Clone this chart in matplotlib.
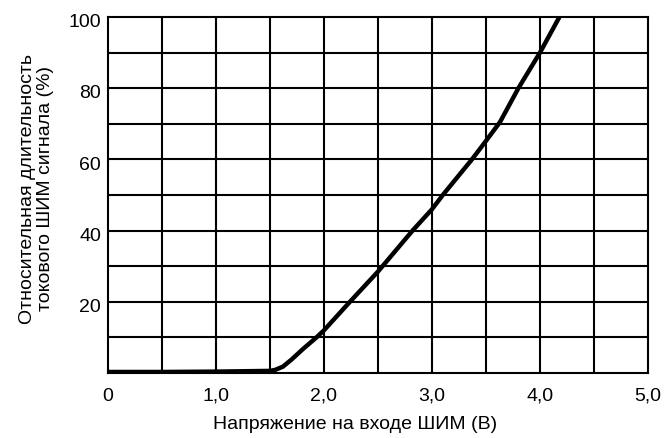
import matplotlib
matplotlib.use('Agg')
import matplotlib.pyplot as plt
import matplotlib.transforms as mtransforms
import numpy as np

plt.rcParams['font.family'] = ['Liberation Sans Narrow', 'Liberation Sans', 'DejaVu Sans']

# кривая: напряжение (В) -> относительная длительность (%)
volt = [0, 0.5, 1.0, 1.5, 1.55, 1.62, 1.7, 1.8, 1.93, 2.0, 2.24, 2.5, 2.82,
        3.0, 3.1, 3.37, 3.5, 3.63, 3.8, 4.0, 4.18]
duty = [0.3, 0.3, 0.4, 0.6, 0.9, 1.8, 3.8, 6.6, 10, 12, 20, 28.5, 40,
        46, 50, 60, 65.2, 70.5, 80, 90, 100]

xticks = [0, 1, 2, 3, 4, 5]
xlabels = ['0', '1,0', '2,0', '3,0', '4,0', '5,0']
yticks = [20, 40, 60, 80, 100]
ylabels = ['20', '40', '60', '80', '100']

fig = plt.figure(figsize=(6.65, 4.39), dpi=100)
ax = fig.add_axes([0.1624, 0.148, 0.812, 0.811])

for xv in np.arange(0.5, 5.0, 0.5):
    ax.axvline(xv, color='black', lw=1.5, zorder=1)
for yv in np.arange(10, 100, 10):
    ax.axhline(yv, color='black', lw=1.5, zorder=1)

ax.plot(volt, duty, color='black', lw=3.2, solid_capstyle='butt', zorder=3)

ax.set_xlim(0, 5)
ax.set_ylim(0, 100)
ax.set_xticks(xticks)
ax.set_xticklabels(xlabels, fontsize=14)
ax.set_yticks(yticks)
ax.set_yticklabels(ylabels, fontsize=14)
ax.tick_params(axis='x', length=0, pad=10)
ax.tick_params(axis='y', length=0, pad=5)
off = mtransforms.ScaledTranslation(0, -2 / 72, fig.dpi_scale_trans)
for lab in ax.get_yticklabels():
    lab.set_transform(lab.get_transform() + off)
for s in ax.spines.values():
    s.set_linewidth(1.5)
    s.set_color('black')

ax.set_xlabel('Напряжение на входе ШИМ (В)', fontsize=14)
ax.xaxis.set_label_coords(0.457, -0.118)
ax.set_ylabel('Относительная длительность\nтокового ШИМ сигнала (%)', fontsize=14,
              linespacing=1.1)
ax.yaxis.set_label_coords(-0.1, 0.52)

plt.savefig('out.png', dpi=100)
